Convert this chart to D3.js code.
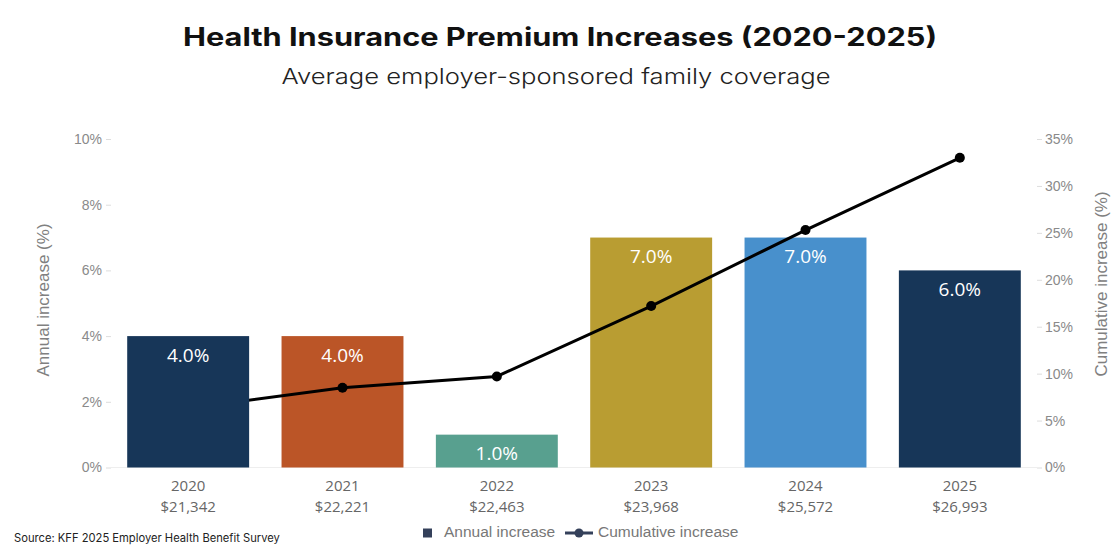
<!DOCTYPE html>
<html>
<head>
<meta charset="utf-8">
<style>
  body { margin: 0; background: #fff; }
  svg { display: block; }
</style>
</head>
<body>
<svg width="1120" height="560"></svg>
<script src="https://cdn.jsdelivr.net/npm/d3@7"></script>
<script>

// data
var years = ["2020", "2021", "2022", "2023", "2024", "2025"];
var premiums = ["$21,342", "$22,221", "$22,463", "$23,968", "$25,572", "$26,993"];
var annual = [4.0, 4.0, 1.0, 7.0, 7.0, 6.0];
var cumulative = [6.3, 8.5, 9.7, 17.2, 25.3, 33.0];
var barColors = ["#173658", "#bb5527", "#58a08f", "#b99d32", "#4890cc", "#173658"];
var leftTicks = [0, 2, 4, 6, 8, 10];
var rightTicks = [0, 5, 10, 15, 20, 25, 30, 35];

var svg = d3.select("svg");

var x = d3.scaleBand().domain(years).range([111, 1037])
    .paddingInner(0.21).paddingOuter(0.105);
var yL = d3.scaleLinear().domain([0, 10]).range([467.5, 139]);
var yR = d3.scaleLinear().domain([0, 35]).range([467.5, 139]);

var rows = years.map(function(y, i) {
  return {year: y, premium: premiums[i], annual: annual[i], cum: cumulative[i], color: barColors[i]};
});

// titles
svg.append("text")
    .attr("x", 560).attr("y", 39)
    .attr("text-anchor", "middle").attr("dominant-baseline", "middle")
    .attr("textLength", 754).attr("lengthAdjust", "spacingAndGlyphs")
    .style("font", "700 25px Inter, sans-serif")
    .style("fill", "#111")
    .text("Health Insurance Premium Increases (2020-2025)");

svg.append("text")
    .attr("x", 556).attr("y", 78)
    .attr("text-anchor", "middle").attr("dominant-baseline", "middle")
    .attr("textLength", 549).attr("lengthAdjust", "spacingAndGlyphs")
    .style("font", "300 22px Inter, sans-serif")
    .style("fill", "#222")
    .text("Average employer-sponsored family coverage");

// baseline
svg.append("line")
    .attr("x1", 111).attr("x2", 1037)
    .attr("y1", yL(0)).attr("y2", yL(0))
    .attr("stroke", "#eee").attr("stroke-width", 1);

// axes
var axL = svg.append("g")
    .attr("transform", "translate(111,0)")
    .call(d3.axisLeft(yL).tickValues(leftTicks).tickFormat(function(d) { return d + "%"; })
      .tickSize(5).tickPadding(4));
var axR = svg.append("g")
    .attr("transform", "translate(1037,0)")
    .call(d3.axisRight(yR).tickValues(rightTicks).tickFormat(function(d) { return d + "%"; })
      .tickSize(5).tickPadding(3));
[axL, axR].forEach(function(ax) {
  ax.select(".domain").remove();
  ax.selectAll(".tick line").attr("stroke", "#ddd");
  ax.selectAll(".tick text")
      .style("font", "14px 'Liberation Sans', Arial, sans-serif")
      .attr("fill", "#8a8a8a");
});

svg.append("text")
    .attr("transform", "translate(45,300) rotate(-90)")
    .attr("text-anchor", "middle").attr("dominant-baseline", "middle")
    .style("font", "17px 'Liberation Sans', Arial, sans-serif")
    .attr("fill", "#808080")
    .text("Annual increase (%)");

svg.append("text")
    .attr("transform", "translate(1103,284) rotate(-90)")
    .attr("text-anchor", "middle").attr("dominant-baseline", "middle")
    .style("font", "17px 'Liberation Sans', Arial, sans-serif")
    .attr("fill", "#808080")
    .text("Cumulative increase (%)");

// bars (one group per year: rect + value label)
var barG = svg.append("g");
var bars = barG.selectAll("g.bar")
    .data(rows)
    .enter().append("g")
      .attr("class", "bar");

bars.append("rect")
    .attr("x", function(d) { return x(d.year); })
    .attr("y", function(d) { return yL(d.annual); })
    .attr("width", x.bandwidth())
    .attr("height", function(d) { return yL(0) - yL(d.annual); })
    .attr("fill", function(d) { return d.color; });

bars.append("text")
    .attr("x", function(d) { return x(d.year) + x.bandwidth() / 2; })
    .attr("y", function(d) { return yL(d.annual) + 20.5; })
    .attr("text-anchor", "middle").attr("dominant-baseline", "middle")
    .style("font", "19px 'Open Sans', sans-serif")
    .attr("fill", "#fff")
    .text(function(d) { return d.annual.toFixed(1) + "%"; });

// category labels
var cats = svg.append("g").selectAll("g.cat")
    .data(rows)
    .enter().append("g")
      .attr("class", "cat")
      .attr("transform", function(d) { return "translate(" + (x(d.year) + x.bandwidth() / 2) + ",0)"; });
cats.append("text")
    .attr("y", 487)
    .text(function(d) { return d.year; });
cats.append("text")
    .attr("y", 508)
    .text(function(d) { return d.premium; });
cats.selectAll("text")
    .attr("text-anchor", "middle").attr("dominant-baseline", "middle")
    .style("font", "15px 'Open Sans', sans-serif")
    .attr("fill", "#666");

// cumulative line
var line = d3.line()
    .x(function(d) { return x(d.year) + x.bandwidth() / 2; })
    .y(function(d) { return yR(d.cum); });

var lineG = svg.append("g");
lineG.append("path")
    .attr("d", line(rows))
    .attr("fill", "none")
    .attr("stroke", "#000")
    .attr("stroke-width", 3);
lineG.selectAll("circle")
    .data(rows)
    .enter().append("circle")
      .attr("cx", function(d) { return x(d.year) + x.bandwidth() / 2; })
      .attr("cy", function(d) { return yR(d.cum); })
      .attr("r", 5)
      .attr("fill", "#000");

// in the reference the first bar sits over the line
bars.filter(function(d, i) { return i === 0; }).each(function() {
  svg.node().appendChild(this);
});

// legend
var leg = svg.append("g");
leg.append("rect")
    .attr("x", 423).attr("y", 528.5).attr("width", 9).attr("height", 9)
    .attr("fill", "#34405a");
leg.append("text")
    .attr("x", 444).attr("y", 533)
    .text("Annual increase");
leg.append("line")
    .attr("x1", 565).attr("x2", 593).attr("y1", 533).attr("y2", 533)
    .attr("stroke", "#34405a").attr("stroke-width", 3);
leg.append("circle")
    .attr("cx", 579).attr("cy", 533).attr("r", 4.5)
    .attr("fill", "#34405a");
leg.append("text")
    .attr("x", 598).attr("y", 533)
    .text("Cumulative increase");
leg.selectAll("text")
    .attr("dominant-baseline", "middle")
    .style("font", "15.5px 'Liberation Sans', Arial, sans-serif")
    .attr("fill", "#777");

// source
svg.append("text")
    .attr("x", 14).attr("y", 539)
    .attr("dominant-baseline", "middle")
    .style("font", "11.2px Inter, sans-serif")
    .attr("fill", "#222")
    .text("Source: KFF 2025 Employer Health Benefit Survey");

</script>
</body>
</html>
